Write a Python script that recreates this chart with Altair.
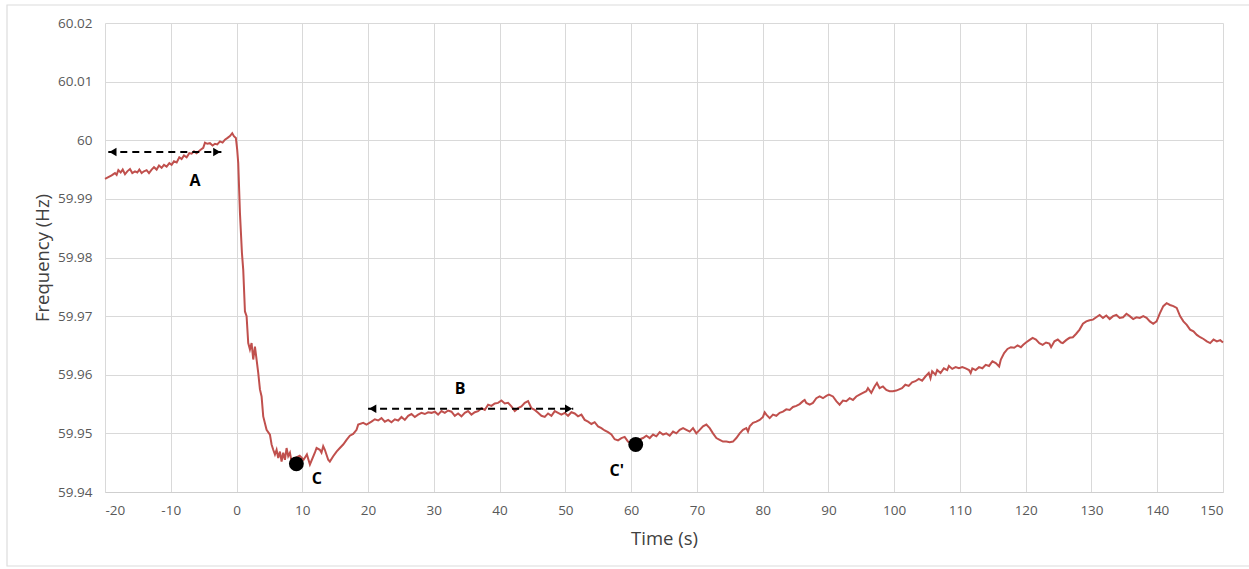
import altair as alt
import pandas as pd

# ---- data ----
time_s = [
    -20.00, -19.49, -18.99, -18.48, -18.23, -17.97, -17.62, -17.31, -16.96, -16.61,
    -16.20, -15.85, -15.44, -15.09, -14.78, -14.43, -14.07, -13.67, -13.31, -12.91,
    -12.55, -12.15, -11.79, -11.39, -11.03, -10.63, -10.22, -9.87, -9.51, -9.10,
    -8.70, -8.35, -7.99, -7.59, -7.18, -6.83, -6.47, -6.07, -5.56, -5.06,
    -4.80, -4.45, -4.04, -3.64, -3.28, -2.93, -2.52, -2.12, -1.76, -1.36,
    -1.00, -0.65, -0.40, -0.10,
    0.10, 0.26, 0.52, 0.82, 1.02, 1.28, 1.53, 1.78, 2.04, 2.29,
    2.54, 2.80, 3.05, 3.30, 3.56, 3.81, 4.06, 4.57, 5.08, 5.33,
    5.58, 5.84, 6.09, 6.34, 6.60, 6.85, 7.10, 7.36, 7.61, 7.86,
    8.12, 8.37, 8.90, 9.60, 10.20, 10.70, 11.16, 11.91, 12.17, 12.67,
    12.92, 13.18, 13.43, 13.94, 14.19, 14.70, 15.21, 15.71, 16.22, 16.73,
    17.23, 17.74, 18.25,
    18.50, 19.26, 19.76, 20.52, 21.03, 21.54, 22.04, 22.55, 23.06, 23.56,
    24.07, 24.58, 25.08, 25.59, 26.10, 26.60, 27.11, 27.61, 28.12, 28.63,
    29.13, 29.64, 30.15, 30.65, 31.16, 31.67, 32.17, 32.68, 33.19, 33.69,
    34.20, 34.71, 35.21, 35.72, 36.23, 36.73, 37.24, 37.75, 38.25, 38.76,
    39.27, 39.77, 40.28, 40.79, 41.29, 41.80, 42.31, 42.81, 43.32, 43.83,
    44.33, 44.84, 45.35, 45.85, 46.36, 46.87, 47.37, 47.88, 48.39, 48.89,
    49.40, 49.90, 50.41, 50.92, 51.42, 51.93, 52.44, 52.94, 53.45, 53.96,
    54.46, 54.97, 55.48, 55.98, 56.49, 57.00, 57.50, 58.01, 58.52, 59.02,
    59.53, 60.04, 60.50, 61.30,
    61.82, 62.32, 62.83, 63.34, 63.84, 64.35, 64.86, 65.36, 65.87, 66.38,
    66.88, 67.39, 67.90, 68.40, 68.91, 69.41, 69.92, 70.43, 70.93, 71.44,
    71.95, 72.45, 72.96, 73.47, 73.97, 74.48, 74.99, 75.49, 76.00, 76.51,
    77.01, 77.52, 77.77, 78.03, 78.53, 79.04, 79.55, 80.05, 80.31, 80.56,
    81.07, 81.57, 82.08, 82.59, 83.09, 83.60, 84.11, 84.61, 85.12, 85.63,
    86.13, 86.39, 86.64, 87.15, 87.65, 88.16, 88.67, 89.17, 89.68,
    90.08, 90.69, 91.20, 91.70, 92.21, 92.72, 93.23, 93.73, 94.24, 94.74,
    95.25, 95.76, 96.01, 96.52, 97.02, 97.38, 97.78, 98.29, 98.80, 99.30,
    99.81, 100.32,
    101.19, 101.70, 102.21, 102.72, 103.23, 103.74, 104.25, 104.75, 105.26, 105.52,
    105.77, 106.28, 106.54, 107.05, 107.55, 108.06, 108.32, 108.83, 109.34, 109.85,
    110.36, 110.87, 111.38, 111.63, 111.88, 112.39, 112.90, 113.41, 113.92, 114.43,
    114.94, 115.45, 115.96, 116.22, 116.72, 117.23, 117.74, 118.25, 118.76, 119.27,
    119.63, 120.04, 120.55, 121.05, 121.56, 122.07, 122.58, 123.09, 123.60, 123.86,
    124.37, 124.88, 125.38, 125.64, 126.15, 126.66, 127.17, 127.68, 128.19, 128.70,
    129.21, 129.71, 130.22, 130.73, 131.24, 131.75, 132.26, 132.77, 133.28, 133.79,
    134.30, 134.81, 135.32, 135.82, 136.34, 136.84, 137.35, 137.87, 138.38, 138.88,
    139.39, 139.90, 140.41, 140.92, 141.43, 141.94, 142.45, 142.96, 143.47, 143.98,
    144.49, 145.00, 145.51, 146.02, 146.53, 147.04, 147.54, 148.05, 148.56, 149.07,
    149.58, 150.00,
]

freq_hz = [
    59.9934, 59.9937, 59.9940, 59.9944, 59.9941, 59.9949, 59.9945, 59.9950, 59.9942, 59.9947,
    59.9951, 59.9944, 59.9947, 59.9945, 59.9950, 59.9944, 59.9947, 59.9949, 59.9944, 59.9950,
    59.9954, 59.9950, 59.9957, 59.9953, 59.9958, 59.9955, 59.9961, 59.9958, 59.9964, 59.9962,
    59.9971, 59.9968, 59.9974, 59.9971, 59.9978, 59.9977, 59.9981, 59.9978, 59.9983, 59.9987,
    59.9996, 59.9994, 59.9995, 59.9991, 59.9994, 59.9993, 59.9998, 59.9996, 60.0001, 60.0004,
    60.0007, 60.0012, 60.0007, 60.0004,
    59.9984, 59.9961, 59.9876, 59.9808, 59.9779, 59.9708, 59.9700, 59.9654, 59.9643, 59.9654,
    59.9626, 59.9648, 59.9626, 59.9603, 59.9575, 59.9563, 59.9529, 59.9506, 59.9498, 59.9481,
    59.9472, 59.9464, 59.9472, 59.9458, 59.9469, 59.9452, 59.9467, 59.9455, 59.9475, 59.9461,
    59.9467, 59.9452, 59.9458, 59.9462, 59.9455, 59.9464, 59.9447, 59.9467, 59.9475, 59.9472,
    59.9467, 59.9478, 59.9472, 59.9455, 59.9452, 59.9461, 59.9469, 59.9475, 59.9481, 59.9489,
    59.9496, 59.9499, 59.9506,
    59.9515, 59.9518, 59.9515, 59.9520, 59.9524, 59.9522, 59.9526, 59.9520, 59.9523, 59.9519,
    59.9524, 59.9522, 59.9528, 59.9523, 59.9530, 59.9533, 59.9528, 59.9532, 59.9535, 59.9533,
    59.9536, 59.9535, 59.9537, 59.9532, 59.9538, 59.9535, 59.9539, 59.9537, 59.9530, 59.9534,
    59.9529, 59.9535, 59.9538, 59.9532, 59.9536, 59.9538, 59.9543, 59.9540, 59.9549, 59.9547,
    59.9551, 59.9552, 59.9556, 59.9551, 59.9552, 59.9546, 59.9538, 59.9543, 59.9546, 59.9552,
    59.9555, 59.9543, 59.9540, 59.9535, 59.9530, 59.9528, 59.9534, 59.9530, 59.9538, 59.9535,
    59.9532, 59.9535, 59.9530, 59.9536, 59.9534, 59.9529, 59.9532, 59.9523, 59.9520, 59.9516,
    59.9519, 59.9512, 59.9509, 59.9505, 59.9502, 59.9498, 59.9490, 59.9488, 59.9492, 59.9494,
    59.9486, 59.9484, 59.9487, 59.9490,
    59.9492, 59.9496, 59.9492, 59.9498, 59.9495, 59.9502, 59.9498, 59.9500, 59.9496, 59.9503,
    59.9500, 59.9506, 59.9509, 59.9506, 59.9503, 59.9509, 59.9500, 59.9506, 59.9512, 59.9515,
    59.9509, 59.9500, 59.9492, 59.9489, 59.9486, 59.9486, 59.9485, 59.9486, 59.9492, 59.9500,
    59.9506, 59.9509, 59.9503, 59.9512, 59.9518, 59.9520, 59.9523, 59.9528, 59.9536, 59.9532,
    59.9526, 59.9532, 59.9530, 59.9535, 59.9537, 59.9541, 59.9540, 59.9545, 59.9547, 59.9550,
    59.9555, 59.9557, 59.9552, 59.9549, 59.9552, 59.9560, 59.9563, 59.9560, 59.9564,
    59.9566, 59.9563, 59.9555, 59.9549, 59.9556, 59.9555, 59.9560, 59.9557, 59.9563, 59.9566,
    59.9569, 59.9572, 59.9577, 59.9569, 59.9580, 59.9586, 59.9577, 59.9580, 59.9574, 59.9572,
    59.9572, 59.9573,
    59.9577, 59.9583, 59.9581, 59.9587, 59.9589, 59.9593, 59.9590, 59.9597, 59.9603, 59.9594,
    59.9606, 59.9600, 59.9608, 59.9603, 59.9611, 59.9608, 59.9615, 59.9610, 59.9613, 59.9611,
    59.9613, 59.9611, 59.9608, 59.9603, 59.9611, 59.9608, 59.9613, 59.9611, 59.9617, 59.9615,
    59.9623, 59.9620, 59.9614, 59.9626, 59.9637, 59.9644, 59.9647, 59.9646, 59.9650, 59.9647,
    59.9651, 59.9655, 59.9659, 59.9663, 59.9660, 59.9654, 59.9651, 59.9655, 59.9653, 59.9647,
    59.9657, 59.9660, 59.9655, 59.9654, 59.9659, 59.9663, 59.9664, 59.9670, 59.9677, 59.9687,
    59.9691, 59.9693, 59.9694, 59.9698, 59.9702, 59.9697, 59.9701, 59.9695, 59.9700, 59.9702,
    59.9697, 59.9698, 59.9704, 59.9700, 59.9695, 59.9698, 59.9697, 59.9700, 59.9697, 59.9691,
    59.9687, 59.9691, 59.9705, 59.9717, 59.9722, 59.9719, 59.9717, 59.9714, 59.9700, 59.9691,
    59.9685, 59.9677, 59.9674, 59.9668, 59.9664, 59.9661, 59.9657, 59.9654, 59.9660, 59.9657,
    59.9659, 59.9655,
]

x_ticks = list(range(-20, 151, 10))
y_ticks = [59.94, 59.95, 59.96, 59.97, 59.98, 59.99, 60.0, 60.01, 60.02]

# annotations
arrow_labels = ["A", "B"]
arrow_start = [-19.5, 20.0]
arrow_end = [-2.3, 51.2]
arrow_freq = [59.9980, 59.9542]
arrow_text_t = [-6.3, 34.0]
arrow_text_f = [59.9931, 59.9575]

dot_labels = ["C", "C'"]
dot_t = [9.1, 60.7]
dot_f = [59.9448, 59.9481]
dot_text_t = [12.2, 57.8]
dot_text_f = [59.9422, 59.9435]

# ---- build tables ----
line_df = pd.DataFrame({"t": time_s, "f": freq_hz})
arrows_df = pd.DataFrame({"name": arrow_labels, "t0": arrow_start, "t1": arrow_end, "f": arrow_freq})
heads_df = pd.DataFrame({
    "t": [a + 0.7 for a in arrow_start] + [b - 0.7 for b in arrow_end],
    "f": arrow_freq + arrow_freq,
    "shape": ["triangle-left"] * 2 + ["triangle-right"] * 2,
})
arrow_text_df = pd.DataFrame({"label": arrow_labels, "t": arrow_text_t, "f": arrow_text_f})
dots_df = pd.DataFrame({"t": dot_t, "f": dot_f})
dot_text_df = pd.DataFrame({"label": dot_labels, "t": dot_text_t, "f": dot_text_f})

FONT = "Open Sans"

x_scale = alt.Scale(domain=[-20, 150], nice=False, zero=False)
y_scale = alt.Scale(domain=[59.94, 60.02], nice=False, zero=False)

x_enc = alt.X(
    "t:Q", scale=x_scale,
    axis=alt.Axis(
        title="Time (s)", values=x_ticks,
        labelExpr="'' + datum.value",
        grid=True, gridColor="#d9d9d9", gridWidth=1,
        ticks=False, tickSize=0, domain=True, domainColor="#cfcfcf",
        labelFont=FONT, labelFontSize=13.5, labelColor="#595959", labelPadding=11,
        titleFont=FONT, titleFontSize=18.5, titleFontWeight="normal", titleColor="#404040",
        titleX=559, titleY=46, titleBaseline="middle", titleAlign="center",
    ),
)
y_enc = alt.Y(
    "f:Q", scale=y_scale,
    axis=alt.Axis(
        title="Frequency (Hz)", values=y_ticks,
        labelExpr="datum.value == 60 ? '60' : format(datum.value, '.2f')",
        grid=True, gridColor="#d9d9d9", gridWidth=1,
        ticks=False, tickSize=0, domain=False,
        labelFont=FONT, labelFontSize=13.5, labelColor="#595959", labelPadding=13,
        titleFont=FONT, titleFontSize=18.5, titleFontWeight="normal", titleColor="#404040",
        titleX=-63, titleY=234.5, titleAngle=-90, titleBaseline="middle", titleAlign="center",
    ),
)

frame = alt.Chart(pd.DataFrame({"k": [0]})).mark_rect(
    fill="white", fillOpacity=0, stroke="#dcdcdc", strokeWidth=1.2, clip=False
).encode(x=alt.value(-98), x2=alt.value(1150), y=alt.value(-18), y2=alt.value(543))

line = alt.Chart(line_df).mark_line(color="#C0504D", strokeWidth=2).encode(
    x=x_enc, y=y_enc, order="t:Q"
)

arrows = alt.Chart(arrows_df).mark_rule(
    color="black", strokeWidth=2, strokeDash=[7, 5]
).encode(x="t0:Q", x2="t1:Q", y="f:Q")

heads = alt.Chart(heads_df).mark_point(
    filled=True, color="black", size=70, opacity=1
).encode(
    x="t:Q", y="f:Q",
    shape=alt.Shape("shape:N", scale=None, legend=None),
)

arrow_text = alt.Chart(arrow_text_df).mark_text(
    font=FONT, fontSize=16, fontWeight="bold", color="black"
).encode(x="t:Q", y="f:Q", text="label:N")

dots = alt.Chart(dots_df).mark_point(
    filled=True, color="black", size=220, opacity=1, shape="circle"
).encode(x="t:Q", y="f:Q")

dot_text = alt.Chart(dot_text_df).mark_text(
    font=FONT, fontSize=16, fontWeight="bold", color="black"
).encode(x="t:Q", y="f:Q", text="label:N")

chart = alt.layer(frame, line, arrows, heads, arrow_text, dots, dot_text).properties(
    width=1118, height=469,
    autosize=alt.AutoSizeParams(type="none"),
    padding={"left": 105, "top": 23, "right": 26, "bottom": 77},
    background="white",
).configure_view(stroke=None)

chart.save("out.html", embed_options={"renderer": "svg", "actions": False})
